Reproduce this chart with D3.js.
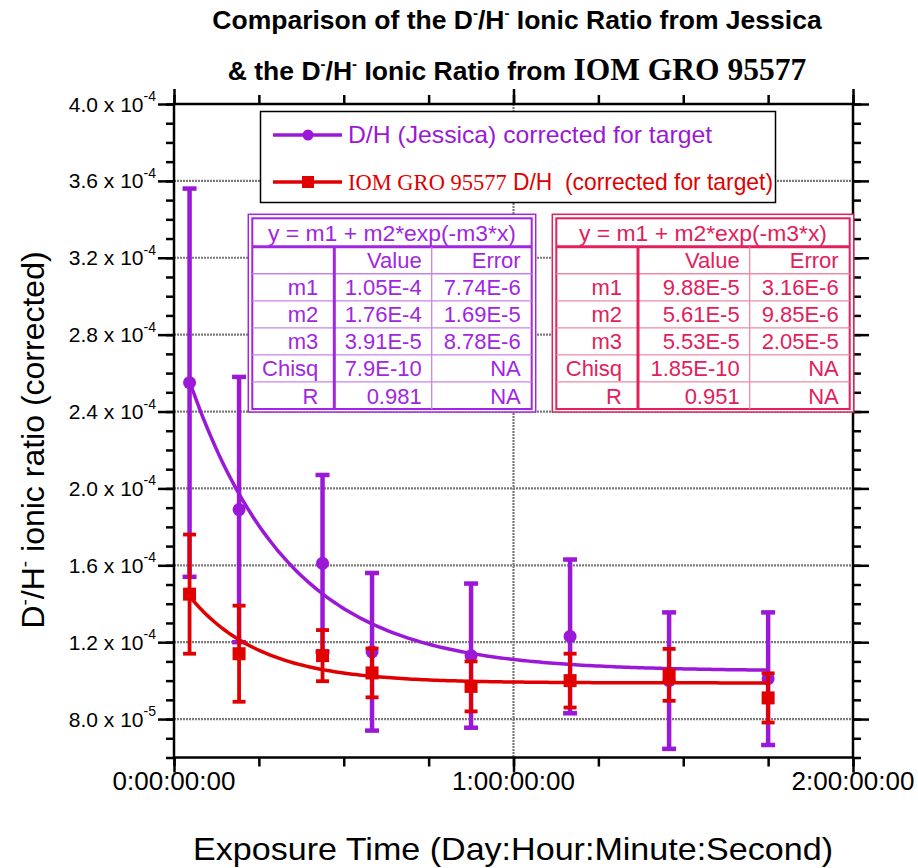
<!DOCTYPE html>
<html><head><meta charset="utf-8">
<script src="https://cdn.jsdelivr.net/npm/d3@7"></script>
<style>body{margin:0;background:#fff}svg{display:block}</style>
</head><body>
<svg id="chart" width="918" height="868"></svg>
<script>
// ---------------- data ----------------
const exposureHours = [1.1, 4.6, 10.5, 14.0, 21.0, 28.0, 35.0, 42.0];
const jessicaRatio = [2.55e-4, 1.89e-4, 1.61e-4, 1.15e-4, 1.13e-4, 1.23e-4, 1.00e-4, 1.01e-4];
const jessicaError = [1.01e-4, 0.69e-4, 0.46e-4, 0.41e-4, 0.375e-4, 0.40e-4, 0.355e-4, 0.345e-4];
const iomRatio = [1.45e-4, 1.14e-4, 1.13e-4, 1.04e-4, 0.97e-4, 1.00e-4, 1.03e-4, 0.91e-4];
const iomError = [0.31e-4, 0.25e-4, 0.133e-4, 0.127e-4, 0.13e-4, 0.14e-4, 0.135e-4, 0.128e-4];

const fitRowLabels = ["m1", "m2", "m3", "Chisq", "R"];
const jessicaFitValue = [1.05e-4, 1.76e-4, 3.91e-5];
const jessicaTableValue = ["1.05E-4", "1.76E-4", "3.91E-5", "7.9E-10", "0.981"];
const jessicaTableError = ["7.74E-6", "1.69E-5", "8.78E-6", "NA", "NA"];
const iomFitValue = [9.88e-5, 5.61e-5, 5.53e-5];
const iomTableValue = ["9.88E-5", "5.61E-5", "5.53E-5", "1.85E-10", "0.951"];
const iomTableError = ["3.16E-6", "9.85E-6", "2.05E-5", "NA", "NA"];

const yTickValues = [8e-5, 1.2e-4, 1.6e-4, 2.0e-4, 2.4e-4, 2.8e-4, 3.2e-4, 3.6e-4, 4.0e-4];
const xTickLabels = ["0:00:00:00", "1:00:00:00", "2:00:00:00"];

// ---------------- layout ----------------
const svg = d3.select("#chart");
const L = 174, R = 853, T = 104, B = 757.5;
const x = d3.scaleLinear().domain([0, 48]).range([L, R]);
const y = d3.scaleLinear().domain([6e-5, 4e-4]).range([B, T]);

const PURPLE = "#9B18D8", RED = "#E10000";
const SANS = "'Liberation Sans', Arial, sans-serif";
const SERIF = "'Liberation Serif', 'Times New Roman', serif";

// grid
const grid = svg.append("g");
yTickValues.filter(v => v < 4e-4).forEach(v => {
  grid.append("line").attr("x1", L).attr("x2", R).attr("y1", y(v)).attr("y2", y(v))
    .attr("stroke", "#7a7a7a").attr("stroke-width", 2.2).attr("stroke-dasharray", "2 1");
});
grid.append("line").attr("x1", x(24)).attr("x2", x(24)).attr("y1", T).attr("y2", B)
  .attr("stroke", "#7a7a7a").attr("stroke-width", 2.2).attr("stroke-dasharray", "2 1");

// axes with ticks (outward on all four sides)
const yMinor = d3.range(6e-5, 4.0001e-4, 1e-5);
const xMinor = d3.range(0, 48.001, 6);
const axBottom = d3.axisBottom(x).tickValues(xMinor).tickSize(9).tickFormat("");
const axTop = d3.axisTop(x).tickValues(xMinor).tickSize(9).tickFormat("");
const axLeft = d3.axisLeft(y).tickValues(yMinor).tickSize(8).tickFormat("");
const axRight = d3.axisRight(y).tickValues(yMinor).tickSize(8).tickFormat("");
const axLeftMaj = d3.axisLeft(y).tickValues(yTickValues).tickSize(16).tickFormat("");
const axRightMaj = d3.axisRight(y).tickValues(yTickValues).tickSize(16).tickFormat("");
const axBottomMaj = d3.axisBottom(x).tickValues([0, 24, 48]).tickSize(15).tickFormat("");
const axTopMaj = d3.axisTop(x).tickValues([0, 24, 48]).tickSize(15).tickFormat("");
function styleAxis(g) {
  g.selectAll("path").remove();
  g.selectAll("line").attr("stroke", "#000").attr("stroke-width", 2.5);
}
svg.append("g").attr("transform", `translate(0,${B})`).call(axBottom).call(styleAxis);
svg.append("g").attr("transform", `translate(0,${B})`).call(axBottomMaj).call(styleAxis);
svg.append("g").attr("transform", `translate(0,${T})`).call(axTop).call(styleAxis);
svg.append("g").attr("transform", `translate(0,${T})`).call(axTopMaj).call(styleAxis);
svg.append("g").attr("transform", `translate(${L},0)`).call(axLeft).call(styleAxis);
svg.append("g").attr("transform", `translate(${L},0)`).call(axLeftMaj).call(styleAxis);
svg.append("g").attr("transform", `translate(${R},0)`).call(axRight).call(styleAxis);
svg.append("g").attr("transform", `translate(${R},0)`).call(axRightMaj).call(styleAxis);
svg.append("rect").attr("x", L).attr("y", T).attr("width", R - L).attr("height", B - T)
  .attr("fill", "none").attr("stroke", "#000").attr("stroke-width", 2.5);

// y tick labels
yTickValues.forEach(v => {
  const e = Math.floor(Math.log10(v) + 1e-9);
  const m = (v / Math.pow(10, e)).toFixed(1);
  const t = svg.append("text").attr("x", 156).attr("y", y(v) + 7.5)
    .attr("text-anchor", "end").attr("font-family", SANS).attr("font-size", 21).attr("fill", "#000");
  t.append("tspan").text(`${m} x 10`);
  t.append("tspan").attr("dy", -10.5).attr("font-size", 14).text(`-${-e}`);
});
// x tick labels
xTickLabels.forEach((s, i) => {
  svg.append("text").attr("x", x(i * 24)).attr("y", 790).attr("text-anchor", "middle")
    .attr("font-family", SANS).attr("font-size", 25).attr("textLength", 123)
    .attr("lengthAdjust", "spacingAndGlyphs").attr("fill", "#000").text(s);
});

// axis titles
svg.append("text").attr("x", 513).attr("y", 860).attr("text-anchor", "middle")
  .attr("font-family", SANS).attr("font-size", 32).attr("textLength", 640)
  .attr("lengthAdjust", "spacingAndGlyphs").attr("fill", "#000")
  .text("Exposure Time (Day:Hour:Minute:Second)");
const yl = svg.append("text").attr("transform", "translate(44,440) rotate(-90)")
  .attr("text-anchor", "middle").attr("font-family", SANS).attr("font-size", 32).attr("fill", "#000");
yl.append("tspan").text("D");
yl.append("tspan").attr("dy", -13).attr("font-size", 19).text("-");
yl.append("tspan").attr("dy", 13).text("/H");
yl.append("tspan").attr("dy", -13).attr("font-size", 19).text("-");
yl.append("tspan").attr("dy", 13).text(" ionic ratio (corrected)");

// title
function titleLine(yPos, parts) {
  const t = svg.append("text").attr("x", 517).attr("y", yPos).attr("text-anchor", "middle")
    .attr("font-weight", "bold").attr("fill", "#000");
  parts.forEach(p => {
    const s = t.append("tspan").attr("font-family", p.serif ? SERIF : SANS)
      .attr("font-size", p.size).text(p.text);
    if (p.dy) s.attr("dy", p.dy);
  });
}
titleLine(29, [
  {text: "Comparison of the D", size: 26.5},
  {text: "-", size: 15, dy: -11},
  {text: "/H", size: 26.5, dy: 11},
  {text: "-", size: 15, dy: -11},
  {text: " Ionic Ratio from Jessica", size: 26.5, dy: 11}]);
titleLine(80, [
  {text: "& the D", size: 26.5},
  {text: "-", size: 15, dy: -11},
  {text: "/H", size: 26.5, dy: 11},
  {text: "-", size: 15, dy: -11},
  {text: " Ionic Ratio from ", size: 26.5, dy: 11},
  {text: "IOM GRO 95577", size: 31.5, serif: true}]);

// ---------------- series ----------------
function fitCurve(params, hours) {
  const xs = d3.range(hours[0], hours[hours.length - 1] + 0.001, 0.25);
  return xs.map(h => [h, params[0] + params[1] * Math.exp(-params[2] * h * 3600)]);
}
const line = d3.line().x(d => x(d[0])).y(d => y(d[1]));

function drawSeries(vals, errs, color, barW, capW, marker, params) {
  const g = svg.append("g");
  exposureHours.forEach((h, i) => {
    const cx = x(h), y1 = y(vals[i] + errs[i]), y2 = y(vals[i] - errs[i]);
    g.append("line").attr("x1", cx).attr("x2", cx).attr("y1", y1).attr("y2", y2)
      .attr("stroke", color).attr("stroke-width", barW);
    [y1, y2].forEach(yy => g.append("line").attr("x1", cx - capW / 2).attr("x2", cx + capW / 2)
      .attr("y1", yy).attr("y2", yy).attr("stroke", color).attr("stroke-width", barW));
  });
  g.append("path").attr("d", line(fitCurve(params, exposureHours))).attr("fill", "none")
    .attr("stroke", color).attr("stroke-width", 3.5);
  exposureHours.forEach((h, i) => {
    if (marker === "circle") {
      g.append("circle").attr("cx", x(h)).attr("cy", y(vals[i])).attr("r", 6.5).attr("fill", color);
    } else {
      g.append("rect").attr("x", x(h) - 6.5).attr("y", y(vals[i]) - 6.5)
        .attr("width", 13).attr("height", 13).attr("fill", color);
    }
  });
}
drawSeries(jessicaRatio, jessicaError, PURPLE, 4.5, 14, "circle", jessicaFitValue);
drawSeries(iomRatio, iomError, RED, 3.8, 13, "square", iomFitValue);

// ---------------- legend ----------------
const lg = svg.append("g");
lg.append("rect").attr("x", 260.5).attr("y", 111.5).attr("width", 515).attr("height", 91)
  .attr("fill", "#fff").attr("stroke", "#000").attr("stroke-width", 1.5);
lg.append("line").attr("x1", 273).attr("x2", 342).attr("y1", 135).attr("y2", 135)
  .attr("stroke", PURPLE).attr("stroke-width", 3.5);
lg.append("circle").attr("cx", 308).attr("cy", 135).attr("r", 5.5).attr("fill", PURPLE);
lg.append("text").attr("x", 348).attr("y", 143).attr("font-family", SANS).attr("font-size", 24)
  .attr("textLength", 364).attr("lengthAdjust", "spacingAndGlyphs")
  .attr("fill", PURPLE).text("D/H (Jessica) corrected for target");
lg.append("line").attr("x1", 273).attr("x2", 342).attr("y1", 182).attr("y2", 182)
  .attr("stroke", RED).attr("stroke-width", 3.5);
lg.append("rect").attr("x", 302).attr("y", 176).attr("width", 12).attr("height", 12).attr("fill", RED);
lg.append("text").attr("x", 348).attr("y", 190).attr("font-family", SERIF).attr("font-size", 22.5)
  .attr("fill", RED).text("IOM GRO 95577");
lg.append("text").attr("x", 513).attr("y", 190).attr("font-family", SANS).attr("font-size", 24)
  .attr("textLength", 260).attr("lengthAdjust", "spacingAndGlyphs")
  .attr("fill", RED).text("D/H\u00a0 (corrected for target)");

// ---------------- fit tables ----------------
function drawTable(x0, x1, c1, c2, color, light, values, errors) {
  const top = 218.3, bot = 409, hdr = 246.7, rowH = (bot - hdr) / 6;
  const g = svg.append("g");
  g.append("rect").attr("x", x0 - 4).attr("y", top - 4).attr("width", x1 - x0 + 8).attr("height", bot - top + 7)
    .attr("fill", "#fff").attr("stroke", color).attr("stroke-width", 1.5);
  g.append("rect").attr("x", x0).attr("y", top).attr("width", x1 - x0).attr("height", bot - top)
    .attr("fill", "none").attr("stroke", color).attr("stroke-width", 2);
  g.append("line").attr("x1", x0).attr("x2", x1).attr("y1", hdr).attr("y2", hdr)
    .attr("stroke", color).attr("stroke-width", 3);
  for (let r = 1; r < 6; r++) {
    g.append("line").attr("x1", x0).attr("x2", x1).attr("y1", hdr + r * rowH).attr("y2", hdr + r * rowH)
      .attr("stroke", light).attr("stroke-width", 1.3);
  }
  g.append("line").attr("x1", c1).attr("x2", c1).attr("y1", hdr).attr("y2", bot)
    .attr("stroke", color).attr("stroke-width", 3);
  g.append("line").attr("x1", c2).attr("x2", c2).attr("y1", hdr).attr("y2", bot)
    .attr("stroke", light).attr("stroke-width", 1.3);
  const txt = (tx, ty, s, anchor) => g.append("text").attr("x", tx).attr("y", ty)
    .attr("text-anchor", anchor).attr("font-family", SANS).attr("font-size", 22)
    .attr("fill", color).text(s);
  txt((x0 + x1) / 2, hdr - 5.5, "y = m1 + m2*exp(-m3*x)", "middle")
    .attr("textLength", 248).attr("lengthAdjust", "spacingAndGlyphs");
  txt(c2 - 10, hdr + rowH - 5.5, "Value", "end");
  txt(x1 - 11, hdr + rowH - 5.5, "Error", "end");
  fitRowLabels.forEach((lab, r) => {
    const ty = hdr + (r + 2) * rowH - 5.5;
    txt(c1 - 16, ty, lab, "end");
    txt(c2 - 10, ty, values[r], "end");
    txt(x1 - 11, ty, errors[r], "end");
  });
}
drawTable(252.3, 531.7, 334.3, 431.7, "#A126E2", "#C984EC", jessicaTableValue, jessicaTableError);
drawTable(556.3, 849.7, 638, 749.7, "#E2205C", "#F08AA6", iomTableValue, iomTableError);
</script>
</body></html>
